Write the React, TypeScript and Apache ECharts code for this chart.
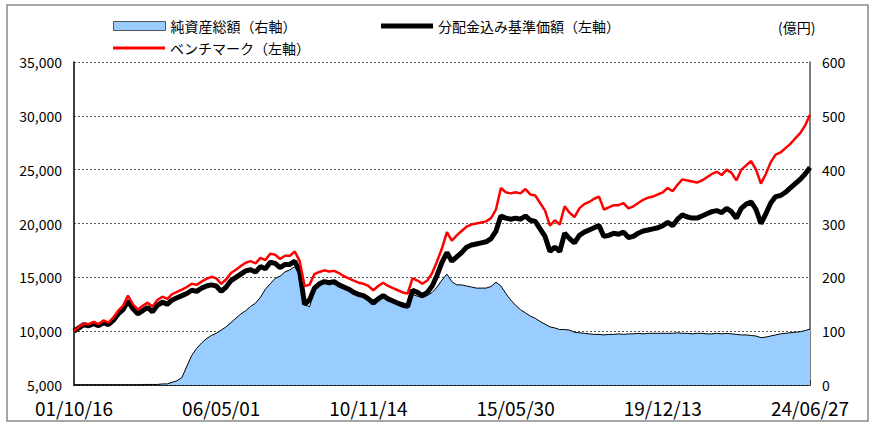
import React, { useEffect, useRef } from "react";
import * as echarts from "echarts";

const tickLabels = ["01/10/16", "06/05/01", "10/11/14", "15/05/30", "19/12/13", "24/06/27"];
const STEP = 30;

const navValues = [
  10000, 10300, 10600, 10500, 10700, 10500, 10800, 10600, 11000, 11600,
  12000, 12800, 12100, 11600, 11900, 12200, 11800, 12400, 12700, 12500,
  12900, 13100, 13300, 13500, 13800, 13700, 14000, 14200, 14300, 14200,
  13700, 14100, 14700, 15000, 15300, 15600, 15700, 15500, 16000, 15800,
  16400, 16300, 15900, 16200, 16200, 16500, 15500, 12500, 12900, 14000,
  14400, 14600, 14500, 14600, 14300, 14100, 13900, 13600, 13400, 13300,
  13000, 12600, 13000, 13300, 13000, 12800, 12600, 12400, 12300, 13800,
  13600, 13300, 13600, 14200, 15200, 16400, 17300, 16500, 16900, 17300,
  17800, 18000, 18100, 18200, 18300, 18600, 19300, 20700, 20500, 20400,
  20500, 20400, 20700, 20300, 20200, 19500, 18800, 17400, 17800, 17400,
  19100, 18600, 18200, 18900, 19200, 19400, 19600, 19800, 18800, 18900,
  19100, 19000, 19200, 18700, 18800, 19100, 19300, 19400, 19500, 19600,
  19800, 20100, 19800, 20400, 20800, 20600, 20500, 20500, 20700, 20900,
  21100, 21200, 21000, 21400, 21100, 20500, 21400, 21800, 22000, 21300,
  20000, 20900, 21900, 22500, 22600, 22900, 23300, 23700, 24100, 24600,
  25200,
];

const benchValues = [
  10000, 10400, 10700, 10650, 10850, 10650, 11000, 10800, 11250, 11900,
  12350, 13300, 12500, 12000, 12350, 12650, 12300, 12900, 13200, 13000,
  13450, 13650, 13850, 14100, 14400, 14300, 14600, 14850, 15050, 14900,
  14400, 14800, 15400, 15700, 16050, 16350, 16500, 16300, 16800, 16600,
  17200, 17100, 16700, 17000, 17000, 17400, 16500, 14200, 14300, 15300,
  15500, 15650, 15550, 15600, 15400, 15100, 14900, 14700, 14500, 14400,
  14200, 13800, 14200, 14500, 14200, 14000, 13800, 13600, 13500, 14900,
  14700, 14400, 14700, 15400, 16500, 17700, 19200, 18400, 18900, 19300,
  19700, 19900, 20000, 20100, 20200, 20500, 21300, 23300, 22900, 22800,
  22900, 22800, 23200, 22700, 22600, 21900, 21200, 19800, 20300, 19900,
  21600, 21000, 20600, 21400, 21800, 22000, 22300, 22500, 21300, 21500,
  21700, 21700, 21900, 21400, 21600, 21900, 22200, 22400, 22500, 22700,
  22900, 23300, 23000, 23600, 24100, 24000, 23900, 23800, 24000, 24300,
  24600, 24800, 24500, 25000, 24700, 24000, 25000, 25400, 25800, 25000,
  23700, 24600, 25700, 26400, 26600, 27000, 27400, 27900, 28400, 29100,
  30100,
];

const assetValues = [
  0, 0, 0, 0, 0, 0, 0, 0, 0, 0,
  0, 0, 0, 0, 1, 1, 1, 1, 2, 2,
  5, 8, 14, 35, 55, 68, 78, 86, 92, 96,
  102, 108, 116, 124, 132, 138, 146, 152, 163, 178,
  188, 198, 202, 210, 214, 220, 205, 150, 145, 175,
  185, 190, 188, 188, 182, 178, 175, 170, 168, 166,
  162, 158, 163, 165, 160, 157, 155, 153, 150, 168,
  165, 162, 166, 172, 182, 195, 206, 192, 186, 186,
  184, 182, 180, 180, 180, 183, 191, 184, 170, 158,
  148, 140, 134, 128, 124, 118, 113, 108, 106, 103,
  103, 102, 98, 97, 96, 95, 94, 94, 93, 94,
  94, 95, 94, 95, 95, 96, 95, 96, 96, 96,
  96, 96, 96, 97, 96, 96, 95, 96, 96, 95,
  95, 96, 95, 96, 95, 94, 93, 93, 92, 91,
  88, 89, 91, 93, 95, 96, 97, 98, 99, 101,
  104,
];

const seriesNames = ["純資産総額（右軸）", "分配金込み基準価額（左軸）", "ベンチマーク（左軸）"];
const unitLabel = "(億円)";

const FONT = "'Noto Sans CJK JP', 'Noto Sans', sans-serif";

export default function App() {
  const ref = useRef<HTMLDivElement>(null);
  useEffect(() => {
    if (!ref.current) return;
    const chart = echarts.init(ref.current, null, { renderer: "svg" });
    const categories = navValues.map((_, i) => (i % STEP === 0 ? tickLabels[i / STEP] : String(i)));
    const gridLine = { show: true, lineStyle: { color: "#555", type: [2, 2] as any, width: 1 } };
    const legendText = { fontSize: 14, color: "#000", fontFamily: FONT };
    chart.setOption({
      animation: false,
      backgroundColor: "#fff",
      textStyle: { fontFamily: FONT },
      grid: { left: 74, right: 64, top: 62, bottom: 40, containLabel: false },
      legend: [
        {
          data: [seriesNames[0]],
          left: 108,
          top: 14,
          icon: "rect",
          itemWidth: 52,
          itemHeight: 9,
          itemStyle: { color: "#99CCFF", borderColor: "#555", borderWidth: 1 },
          textStyle: legendText,
        },
        {
          data: [seriesNames[1]],
          left: 376,
          top: 14,
          icon: "rect",
          itemWidth: 52,
          itemHeight: 5,
          textStyle: legendText,
        },
        {
          data: [seriesNames[2]],
          left: 108,
          top: 36,
          icon: "rect",
          itemWidth: 52,
          itemHeight: 3,
          textStyle: legendText,
        },
      ],
      graphic: [
        {
          type: "rect",
          shape: { x: 7, y: 5, width: 861, height: 416 },
          style: { fill: "none", stroke: "#888", lineWidth: 1.5 },
          silent: true,
        },
        {
          type: "text",
          x: 778,
          y: 20,
          style: { text: unitLabel, font: `14px ${FONT}`, fill: "#000" },
        },
      ],
      xAxis: {
        type: "category",
        data: categories,
        boundaryGap: false,
        axisLine: { show: true, lineStyle: { color: "#000", width: 1.5 } },
        axisTick: { show: true, inside: true, length: 5, interval: STEP - 1, lineStyle: { color: "#333" } },
        axisLabel: {
          interval: STEP - 1,
          fontSize: 19,
          color: "#000",
          margin: 13,
          fontFamily: FONT,
        },
        splitLine: { show: false },
      },
      yAxis: [
        {
          type: "value",
          min: 5000,
          max: 35000,
          interval: 5000,
          axisLine: { show: true, lineStyle: { color: "#000", width: 1.5 } },
          axisTick: { show: false },
          axisLabel: {
            fontSize: 14,
            color: "#000",
            margin: 12,
            fontFamily: FONT,
            formatter: (v: number) => v.toLocaleString("en-US"),
          },
          splitLine: gridLine,
        },
        {
          type: "value",
          min: 0,
          max: 600,
          interval: 100,
          position: "right",
          axisLine: { show: true, lineStyle: { color: "#555", width: 1.5 } },
          axisTick: { show: false },
          axisLabel: { fontSize: 14, color: "#000", margin: 12, fontFamily: FONT },
          splitLine: { show: false },
        },
      ],
      series: [
        {
          name: seriesNames[0],
          type: "line",
          yAxisIndex: 1,
          data: assetValues,
          showSymbol: false,
          lineStyle: { color: "#000", width: 1 },
          itemStyle: { color: "#99CCFF" },
          areaStyle: { color: "#99CCFF", opacity: 1 },
          z: 1,
        },
        {
          name: seriesNames[1],
          type: "line",
          yAxisIndex: 0,
          data: navValues,
          showSymbol: false,
          lineStyle: { color: "#000", width: 5 },
          itemStyle: { color: "#000" },
          z: 2,
        },
        {
          name: seriesNames[2],
          type: "line",
          yAxisIndex: 0,
          data: benchValues,
          showSymbol: false,
          lineStyle: { color: "#FF0000", width: 2.5 },
          itemStyle: { color: "#FF0000" },
          z: 3,
        },
      ],
    });
    return () => chart.dispose();
  }, []);
  return (
    <div
      ref={ref}
      style={{ position: "fixed", left: 0, top: 0, width: 874, height: 425 }}
    />
  );
}
